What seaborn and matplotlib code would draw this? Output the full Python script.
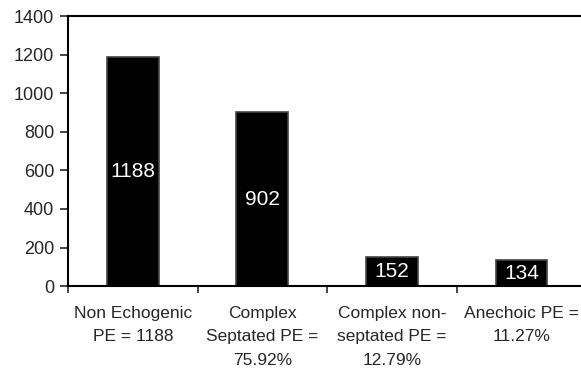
import numpy as np
import pandas as pd
import seaborn as sns
import matplotlib.pyplot as plt
from matplotlib.ticker import FixedLocator

categories = ["Non Echogenic\nPE = 1188", "Complex\nSeptated PE =\n75.92%",
              "Complex non-\nseptated PE =\n12.79%", "Anechoic PE =\n11.27%"]
counts = [1188, 902, 152, 134]
value_labels = ["1188", "902", "152", "134"]

sns.set_style("white")
plt.rcParams['font.family'] = ['Liberation Sans', 'DejaVu Sans']

df = pd.DataFrame({"category": categories, "count": counts})

fig = plt.figure(figsize=(5.81, 3.73), dpi=100)
ax = fig.add_axes([0.117, 0.233, 0.892, 0.724])

sns.barplot(data=df, x="category", y="count", color="black", width=0.4,
            edgecolor="#444444", linewidth=1.2, saturation=1, ax=ax)

# value labels in the middle of each bar
for patch, lab in zip(ax.patches, value_labels):
    cx = patch.get_x() + patch.get_width() / 2
    cy = patch.get_height() / 2
    ax.text(cx, cy, lab, color="white", ha="center", va="center", fontsize=15)

ax.set_ylim(0, 1400)
ax.set_xlim(-0.5, 3.5)
ax.set_yticks(np.arange(0, 1401, 200))
ax.set_xlabel("")
ax.set_ylabel("")

for side in ["left", "bottom", "top"]:
    ax.spines[side].set_visible(True)
    ax.spines[side].set_color("black")
    ax.spines[side].set_linewidth(1.5)
ax.spines["right"].set_visible(False)

ax.tick_params(axis="y", direction="out", length=6, width=1.2, labelsize=13, pad=4, left=True)
ax.tick_params(axis="x", which="major", length=0, labelsize=12.5, pad=14)
# tick marks sit between the categories
ax.xaxis.set_minor_locator(FixedLocator([-0.5, 0.5, 1.5, 2.5]))
ax.tick_params(axis="x", which="minor", direction="out", length=5, width=1.2, bottom=True)
for t in ax.get_xticklabels():
    t.set_linespacing(1.72)

fig.savefig("out.png", dpi=100)
